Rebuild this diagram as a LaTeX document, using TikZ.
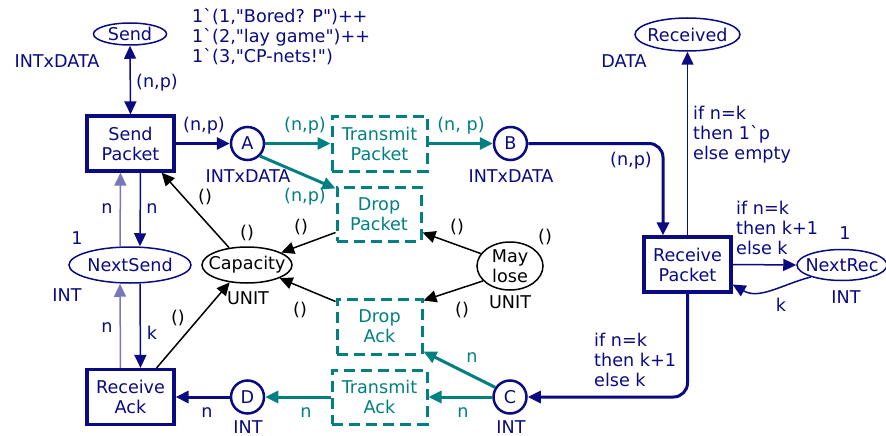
\documentclass[tikz,border=0pt]{standalone}
\usepackage{fontspec}
\setmainfont{DejaVu Sans}[Ligatures=TeXOff]
\usetikzlibrary{arrows.meta,shapes.geometric}
\definecolor{nv}{RGB}{10,10,130}
\definecolor{tl}{RGB}{0,128,128}
\begin{document}
\begin{tikzpicture}[x=1pt,y=-1pt,font=\fontsize{17.6}{20}\selectfont,
 >={Triangle[length=13pt,width=12pt]},
 tr/.style={draw=nv,line width=3.2pt,text=nv,align=center,minimum width=87pt,minimum height=55pt,inner sep=0pt},
 dtr/.style={draw=tl,line width=3pt,text=tl,align=center,dash pattern=on 11pt off 6pt,inner sep=0pt},
 pl/.style={ellipse,draw=nv,line width=1.5pt,inner sep=0pt},
 cp/.style={circle,draw=nv,line width=2.5pt,text=nv,minimum size=33pt,inner sep=0pt},
 lb/.style={text=nv,inner sep=0pt},
 tlb/.style={text=tl,inner sep=0pt},
 blb/.style={text=black,inner sep=0pt},
 thk/.style={draw=nv,line width=3pt,->},
 thn/.style={draw=nv,line width=1.5pt,->},
 lite/.style={draw=nv!55,line width=1.5pt,->},
 tla/.style={draw=tl,line width=3pt,->},
 bla/.style={draw=black,line width=1.5pt,->},
]
\useasboundingbox (0,0) rectangle (886,436);
% transitions
\node[tr] (sp) at (130.5,143.5) {Send\\Packet};
\node[tr] (ra) at (130.5,397) {Receive\\Ack};
\node[tr] (rp) at (687.5,264.5) {Receive\\Packet};
\node[dtr,minimum width=95pt,minimum height=55pt] (tp) at (379.5,143.5) {Transmit\\Packet};
\node[dtr,minimum width=84pt,minimum height=54pt] (dp) at (379,214) {Drop\\Packet};
\node[dtr,minimum width=85pt,minimum height=55pt] (da) at (379.5,326.5) {Drop\\Ack};
\node[dtr,minimum width=95pt,minimum height=54pt] (ta) at (379.5,397) {Transmit\\Ack};
% places
\node[cp] (A) at (247.5,143.5) {A};
\node[cp] (B) at (510.5,143.5) {B};
\node[cp] (C) at (510,397) {C};
\node[cp] (D) at (247.5,397) {D};
\node[pl,minimum width=73pt,minimum height=22pt,label={[lb]center:Send}] (send) at (130,34) {};
\node[pl,minimum width=122pt,minimum height=36pt,label={[lb]center:NextSend}] (ns) at (130,265) {};
\node[pl,minimum width=105pt,minimum height=33pt,label={[lb]center:Received}] (rec) at (687.5,34.5) {};
\node[pl,minimum width=90pt,minimum height=31pt,label={[lb]center:NextRec}] (nr) at (842,265) {};
\node[pl,draw=black,minimum width=90pt,minimum height=36pt,label={[blb]center:Capacity}] (cap) at (247,265) {};
\node[pl,draw=black,minimum width=66pt,minimum height=48pt,label={[blb,align=center]center:May\\lose}] (ml) at (510,266) {};
% arcs
\draw[thn,<->] (send.south) -- (sp.north);
\draw[thk] (sp.east) -- (A.west);
\draw[tla] (A.east) -- (tp.west);
\draw[tla] (A.south east) -- ([yshift=-3pt]dp.north west);
\draw[tla] (tp.east) -- (B.west);
\draw[thk,rounded corners=14pt] (B.east) -| ([xshift=-24.5pt]rp.north);
\draw[thn] (rp.north) -- (rec.south);
\draw[thn] (rp.east) -- (nr.west);
\draw[thn] (nr.201) to[out=195,in=-30] ([yshift=-20pt]rp.east);
\draw[thk,rounded corners=14pt] (rp.south) |- (C.east);
\draw[tla] (C.west) -- (ta.east);
\draw[tla] (C.147) -- ([yshift=4pt]da.south east);
\draw[tla] (ta.west) -- (D.east);
\draw[thk] (D.west) -- (ra.east);
\draw[lite] ([xshift=-10pt]ns.north) -- ([xshift=-10pt]sp.south);
\draw[thn] ([xshift=10pt]sp.south) -- ([xshift=10pt]ns.north);
\draw[lite] ([xshift=-10pt]ra.north) -- ([xshift=-10pt]ns.south);
\draw[thn] ([xshift=10pt]ns.south) -- ([xshift=10pt]ra.north);
\draw[bla] (cap.136) -- ([xshift=-14pt]sp.south east);
\draw[bla] ([xshift=-19pt]ra.north east) -- (cap.225);
\draw[bla] ([yshift=10pt]dp.south west) -- (cap.20);
\draw[bla] (ml.157) -- ([yshift=10pt]dp.south east);
\draw[bla] ([yshift=-4pt]da.north west) -- (cap.-22);
\draw[bla] (ml.209) -- ([yshift=-3pt]da.north east);
% labels
\node[lb,anchor=west,align=left] (tok) at (192,37) {1\textasciigrave(1,"Bored? P")++\\1\textasciigrave(2,"lay game")++\\1\textasciigrave(3,"CP-nets!")};
\node[lb] at (57,61) {INTxDATA};
\node[lb] at (157,83) {(n,p)};
\node[lb] at (204,126) {(n,p)};
\node[tlb] at (305,126) {(n,p)};
\node[tlb] at (461,126) {(n, p)};
\node[lb] at (248,176) {INTxDATA};
\node[lb] at (511,176) {INTxDATA};
\node[tlb] at (305,197) {(n,p)};
\node[blb] at (205,197) {()};
\node[blb] at (247,233) {()};
\node[blb] at (301,227) {()};
\node[blb] at (457,227) {()};
\node[blb] at (545,237) {()};
\node[blb] at (248,298) {UNIT};
\node[blb] at (510,302) {UNIT};
\node[blb] at (300,310) {()};
\node[blb] at (462,310) {()};
\node[blb] at (178,318) {()};
\node[lb] at (107,209) {n};
\node[lb] at (152,209) {n};
\node[lb] at (77,238) {1};
\node[lb] at (67,295) {INT};
\node[lb] at (107,328) {n};
\node[lb] at (152,333) {k};
\node[lb] at (207,413) {n};
\node[tlb] at (306,413) {n};
\node[tlb] at (463,413) {n};
\node[tlb] at (472,358) {n};
\node[lb] at (248,427) {INT};
\node[lb] at (511,427) {INT};
\node[lb] at (624,61) {DATA};
\node[lb] at (631,161) {(n,p)};
\node[lb,anchor=west,align=left] at (693,135) {if n=k\\then 1\textasciigrave p\\else empty};
\node[lb,anchor=west,align=left] at (736,228) {if n=k\\then k+1\\else k};
\node[lb] at (845,233) {1};
\node[lb] at (846,297) {INT};
\node[lb] at (781,305) {k};
\node[lb,anchor=west,align=left] at (594,360) {if n=k\\then k+1\\else k};
\end{tikzpicture}
\end{document}
